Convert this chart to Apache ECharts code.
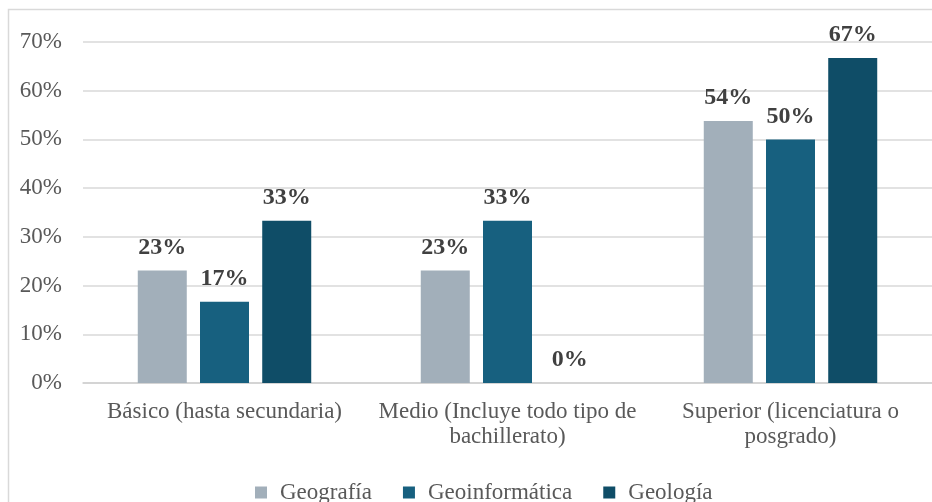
<!DOCTYPE html>
<html>
<head>
<meta charset="utf-8">
<script src="https://cdn.jsdelivr.net/npm/echarts@6/dist/echarts.min.js"></script>
<style>html,body{margin:0;padding:0;background:#fff}#c{width:932px;height:502px}</style>
</head>
<body>
<div id="c"></div>
<script>
const categories = ["Básico (hasta secundaria)", "Medio (Incluye todo tipo de\nbachillerato)", "Superior (licenciatura o\nposgrado)"];
const seriesNames = ["Geografía", "Geoinformática", "Geología"];
const geografia = [23.1, 23.1, 53.8];
const geoinformatica = [16.7, 33.3, 50.0];
const geologia = [33.3, 0, 66.7];
const yTicks = [0, 10, 20, 30, 40, 50, 60, 70];

const colors = ["#A2AFBA", "#17607F", "#0F4D67"];
const font = "'Liberation Serif', 'Times New Roman', serif";
const chart = echarts.init(document.getElementById('c'), null, {renderer: 'canvas'});
const mk = (name, data, i) => ({
  name, type: 'bar', data, barWidth: 49, barGap: '27%',
  itemStyle: {color: colors[i]},
  label: {show: true, position: 'top', distance: 11, formatter: p => Math.round(p.value) + '%',
    fontFamily: font, fontWeight: 'bold', fontSize: 24, color: '#404040'}
});
chart.setOption({
  animation: false,
  textStyle: {fontFamily: font},
  graphic: [{type: 'rect', shape: {x: 8.5, y: 9.5, width: 940, height: 500}, style: {fill: 'none', stroke: '#d9d9d9', lineWidth: 1.5}, z: -1}],
  grid: {left: 83, top: 42, width: 851, bottom: 119},
  xAxis: {type: 'category', data: categories,
    axisLine: {lineStyle: {color: '#d0d0d0', width: 1.5}}, axisTick: {show: false},
    axisLabel: {fontFamily: font, fontSize: 23, color: '#595959', margin: 16, lineHeight: 25, interval: 0}},
  yAxis: {type: 'value', min: yTicks[0], max: yTicks[yTicks.length - 1], interval: 10,
    axisLine: {show: false}, axisTick: {show: false},
    splitLine: {lineStyle: {color: '#d9d9d9', width: 1.5}},
    axisLabel: {fontFamily: font, fontSize: 23, color: '#595959', margin: 21, formatter: v => v + '%'}},
  legend: {data: seriesNames, left: 250, top: 476, itemWidth: 12, itemHeight: 12, itemGap: 31, icon: 'rect',
    textStyle: {fontFamily: font, fontSize: 23, color: '#595959', padding: [0, 0, 0, 8]}},
  series: [mk(seriesNames[0], geografia, 0), mk(seriesNames[1], geoinformatica, 1), mk(seriesNames[2], geologia, 2)]
});
</script>
</body>
</html>
